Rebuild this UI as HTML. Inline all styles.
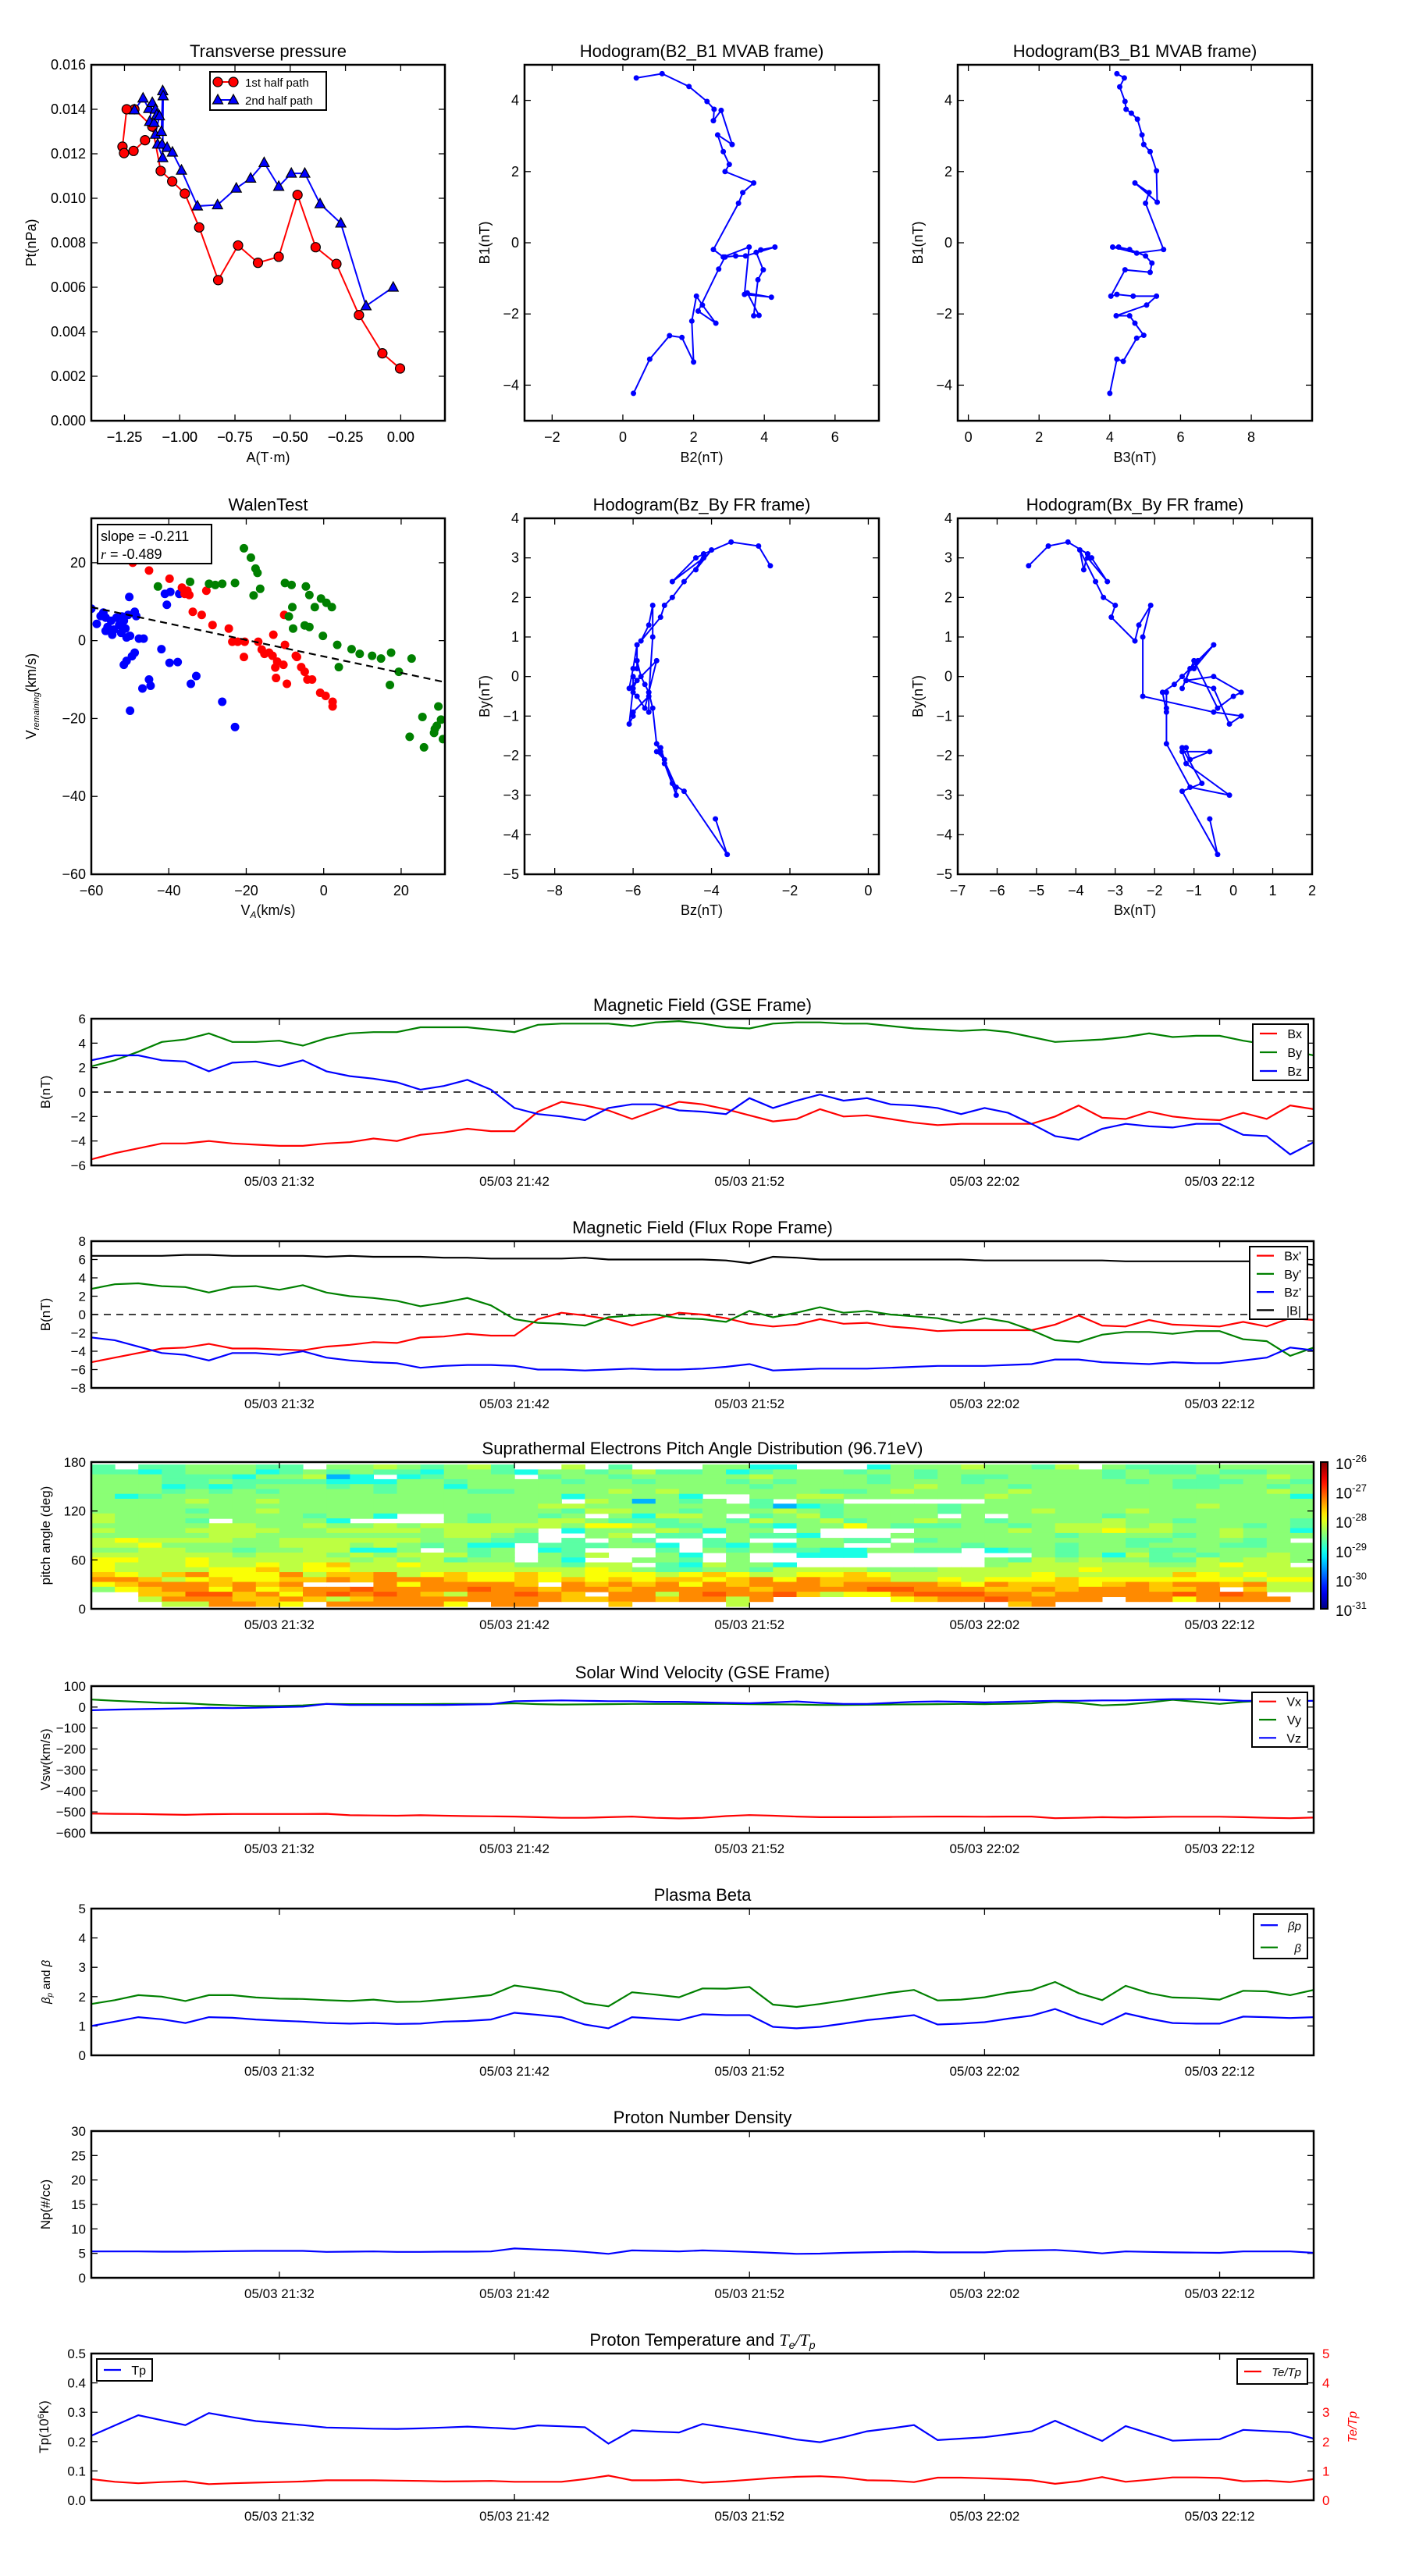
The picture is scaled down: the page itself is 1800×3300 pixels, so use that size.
<!DOCTYPE html>
<html><head><meta charset="utf-8"><title>Flux rope analysis</title>
<style>
html,body{margin:0;padding:0;background:#fff;}
svg{display:block;font-family:"Liberation Sans","DejaVu Sans",sans-serif;}
</style></head>
<body>
<svg id="chart" width="1800" height="3300" viewBox="0 0 1800 3300" xmlns="http://www.w3.org/2000/svg"></svg>
<script>
// ---------------- data ----------------
const minutes = Array.from({length:53},(_,i)=>i); // minute offsets from 21:24
const timeTickMinutes = [8,18,28,38,48];
const timeTickLabels = ["05/03 21:32","05/03 21:42","05/03 21:52","05/03 22:02","05/03 22:12"];

const gseBx = [-5.5,-5.0,-4.6,-4.2,-4.2,-4.0,-4.2,-4.3,-4.4,-4.4,-4.2,-4.1,-3.8,-4.0,-3.5,-3.3,-3.0,-3.2,-3.2,-1.6,-0.8,-1.1,-1.5,-2.2,-1.5,-0.8,-1.0,-1.4,-1.9,-2.4,-2.2,-1.4,-2.0,-1.9,-2.2,-2.5,-2.7,-2.6,-2.6,-2.6,-2.6,-2.0,-1.1,-2.1,-2.2,-1.6,-2.0,-2.2,-2.3,-1.7,-2.2,-1.1,-1.4];
const gseBy = [2.1,2.6,3.3,4.1,4.3,4.8,4.1,4.1,4.2,3.8,4.4,4.8,4.9,4.9,5.3,5.3,5.3,5.1,4.9,5.5,5.6,5.6,5.6,5.4,5.7,5.8,5.6,5.3,5.2,5.6,5.7,5.7,5.6,5.6,5.4,5.2,5.1,5.0,5.1,4.9,4.5,4.1,4.2,4.3,4.5,4.8,4.5,4.6,4.6,4.2,3.9,3.4,3.0];
const gseBz = [2.6,3.0,3.0,2.6,2.5,1.7,2.4,2.5,2.1,2.6,1.7,1.3,1.1,0.8,0.2,0.5,1.0,0.2,-1.3,-1.8,-2.0,-2.3,-1.3,-1.0,-1.0,-1.5,-1.6,-1.8,-0.5,-1.3,-0.7,-0.2,-0.7,-0.5,-1.0,-1.1,-1.3,-1.8,-1.3,-1.7,-2.6,-3.6,-3.9,-3.0,-2.6,-2.8,-2.9,-2.6,-2.6,-3.5,-3.6,-5.1,-4.1];

const frBx = [-5.2,-4.7,-4.2,-3.7,-3.6,-3.2,-3.7,-3.7,-3.8,-3.9,-3.5,-3.3,-3.0,-3.1,-2.5,-2.4,-2.1,-2.3,-2.3,-0.5,0.2,-0.1,-0.5,-1.2,-0.5,0.2,0.0,-0.4,-1.0,-1.3,-1.1,-0.5,-1.0,-0.9,-1.3,-1.5,-1.8,-1.7,-1.7,-1.7,-1.7,-1.1,-0.1,-1.2,-1.3,-0.6,-1.1,-1.2,-1.3,-0.8,-1.3,-0.4,-0.6];
const frBy = [2.8,3.3,3.4,3.1,3.0,2.4,3.0,3.1,2.7,3.2,2.4,2.0,1.8,1.5,0.9,1.3,1.8,1.0,-0.5,-0.9,-1.0,-1.2,-0.3,-0.1,0.0,-0.4,-0.5,-0.8,0.4,-0.3,0.2,0.8,0.2,0.4,0.0,-0.2,-0.4,-0.9,-0.4,-0.8,-1.7,-2.8,-3.0,-2.2,-1.9,-1.9,-2.1,-1.8,-1.8,-2.7,-2.9,-4.5,-3.6];
const frBz = [-2.5,-2.8,-3.5,-4.2,-4.4,-5.0,-4.2,-4.2,-4.4,-4.0,-4.7,-5.0,-5.2,-5.3,-5.8,-5.6,-5.5,-5.5,-5.6,-6.0,-6.0,-6.1,-6.0,-5.9,-6.0,-6.0,-5.9,-5.7,-5.4,-6.1,-6.0,-5.9,-5.9,-5.9,-5.8,-5.7,-5.6,-5.6,-5.6,-5.5,-5.4,-4.9,-4.9,-5.2,-5.3,-5.4,-5.2,-5.3,-5.3,-5.0,-4.7,-3.6,-3.9];
const frBt = [6.4,6.4,6.4,6.4,6.5,6.5,6.4,6.4,6.4,6.4,6.3,6.4,6.3,6.3,6.3,6.2,6.2,6.1,6.1,6.1,6.1,6.2,6.0,6.0,6.0,6.0,6.0,5.9,5.6,6.3,6.2,6.0,6.0,6.0,6.0,6.0,6.0,6.0,5.9,5.9,5.9,5.9,5.9,5.9,5.8,5.8,5.8,5.8,5.8,5.8,5.8,5.7,5.4];

const vswX = [-508,-509,-510,-512,-514,-511,-510,-510,-510,-510,-509,-516,-517,-518,-516,-518,-520,-521,-522,-525,-528,-528,-525,-522,-528,-531,-528,-520,-515,-518,-522,-525,-525,-525,-524,-523,-522,-522,-523,-522,-522,-530,-528,-525,-527,-525,-523,-523,-523,-525,-528,-530,-527];
const vswY = [36,30,25,20,18,12,8,5,5,8,15,14,14,14,14,15,15,15,18,14,12,13,14,15,15,15,15,15,14,13,12,10,10,11,12,13,14,15,14,16,18,25,20,8,12,22,35,25,15,25,30,28,30];
const vswZ = [-15,-12,-10,-8,-6,-4,-5,-3,0,2,15,10,10,10,10,10,12,14,28,30,32,30,28,28,25,25,22,20,18,22,27,20,15,15,20,25,27,25,22,25,28,30,30,32,32,35,38,38,35,30,30,28,30];

const betaP = [1.0,1.15,1.3,1.23,1.1,1.3,1.28,1.22,1.18,1.15,1.1,1.08,1.1,1.07,1.08,1.15,1.17,1.22,1.45,1.38,1.3,1.05,0.92,1.3,1.25,1.2,1.4,1.37,1.37,0.97,0.92,0.97,1.08,1.2,1.28,1.37,1.05,1.08,1.13,1.25,1.35,1.58,1.28,1.05,1.43,1.25,1.1,1.08,1.08,1.32,1.3,1.27,1.3];
const betaTot = [1.75,1.88,2.05,2.0,1.85,2.05,2.05,1.97,1.93,1.92,1.88,1.85,1.9,1.82,1.83,1.9,1.97,2.05,2.38,2.27,2.15,1.78,1.67,2.15,2.07,1.98,2.28,2.27,2.33,1.73,1.65,1.75,1.87,2.0,2.13,2.23,1.87,1.9,1.98,2.13,2.22,2.5,2.12,1.88,2.37,2.12,1.97,1.95,1.9,2.2,2.18,2.05,2.23];
const np = [5.4,5.4,5.4,5.35,5.35,5.4,5.45,5.5,5.5,5.5,5.3,5.35,5.4,5.3,5.3,5.35,5.35,5.4,6.0,5.8,5.6,5.3,4.9,5.6,5.5,5.4,5.6,5.45,5.3,5.1,4.9,4.95,5.1,5.2,5.3,5.35,5.2,5.2,5.2,5.5,5.6,5.7,5.4,5.0,5.4,5.3,5.2,5.15,5.1,5.4,5.4,5.4,5.1];
const tp = [0.22,0.255,0.29,0.273,0.256,0.297,0.283,0.27,0.263,0.256,0.248,0.246,0.244,0.243,0.245,0.248,0.251,0.247,0.243,0.255,0.252,0.249,0.193,0.238,0.234,0.231,0.26,0.248,0.235,0.222,0.207,0.198,0.215,0.235,0.245,0.256,0.205,0.21,0.215,0.225,0.235,0.271,0.236,0.202,0.253,0.228,0.203,0.206,0.208,0.24,0.236,0.232,0.21];
const teTp = [0.72,0.63,0.58,0.62,0.65,0.55,0.58,0.6,0.62,0.64,0.68,0.68,0.68,0.67,0.66,0.64,0.65,0.66,0.63,0.63,0.63,0.72,0.84,0.68,0.68,0.7,0.6,0.64,0.7,0.76,0.8,0.82,0.78,0.68,0.67,0.62,0.77,0.77,0.75,0.72,0.68,0.56,0.65,0.79,0.63,0.7,0.78,0.78,0.76,0.65,0.67,0.62,0.72];

// Pitch-angle distribution: 29 rows (top = 171-177 deg) x 52 one-minute columns.
const padLevels = {b:-29.5,c:-29.0,g:-28.68,l:-28.45,y:-28.2,Y:-27.9,o:-27.6,O:-27.3,r:-27.05};
const padRows = [
"g.gglllgg.llylglyg..y.g...llcc...clllyllgy.lggglllll.",
"ggcglllcglglggcllgcllglygglcglllgllglllllllglgglggllllgg",
"lllgggcllybc.cglll.gllglllllyllllglglggllllglllgllylyg",
"lllgglggggcccllgllllgllglllglglllglllgllllllglgggllgc",
"lllcgcglllglgllcllllllllllllgllllllylllgllllllggllglg",
"lllglglgllllglllggllllylyllllllgglyllllyllllllllllyllllg",
"lcglllllllllllllllllcllllc..llyyllllllyllllllllllllc",
"llllyllyllllllllllll.ylblgl.g.ll......lllllllllllllll",
"lllllllllllllllllllyylllllllgbcgllllgllllllllllyllll",
"llllgllyllllllllllllgyyllglllylgllllglllylllylllllll",
"yllllllllgllc..lgllgl.lcyyl.glygllll.l.llllgllllllll",
"ylllg.llllc....lgllyylgggllgyllygllyllgllllyllgllllgl",
"lllllyyllyllylyyyyyylYYyggllgcllYlgggllglyyylylllglg",
"ylllyyyyllyyyylyyyl.clllylcll.l....llllylyyYyyllyllc",
"lllllyyllllllllyylg..ly.gg.lggc...lllllllgllllglylll",
"yYyyyyllyyyyyylllgg.g.lg..gl..llgg.gllllllllgglllgl.",
"yyYlllllyyylylglcc.gggllc.gclcll..lllglllgllglllggllyl",
"llyyllgllyyccl.lgl.cg...g.lglggccllgg.cglglllgglllllg",
"yyyyyylyyylylyyygl.lgy..lc.l..ccc.......lglcyglgllyl",
"YYyyYyyyyyylylygll.lc..llg.l..........lgylyllggylyyl",
"YyyyYyyYyYoyyYyyyyllgyy.gcyllc........lyyyyyyllyYyy",
"YyyyyYYoyYYyyyyyyyyyyYylggllgyyyylllyyyyyyYyyyyyyyyy",
"oYyoOYYYOyooOyYoYYoYyYYYyYoYyyYYoYyyyyyyYyyyyyoYyYyy",
"OOoyYoYYooOoOOOoYYoYoYoYooYoOYOoooyyYyYYYoYYYYYYYyYY",
"YoOOOoOoO...OYOOOOo.OoOoOYOoOOOoOOOOoYOoooYoOoOOoOyy",
"lYoOOYOYoOOrOOOOrOOoOOoOOOOOoOOOOrrOOOooOoOOOooO.oyy",
"..oorroOYOrOrOoyOOrOo.OOyOrOOroyYYOrrrOOoOOOOOrOrO..",
"..yOOOooOoyoOOOOOOOOooOOoOOyO.....YoOOrOOOO.OOYOOOO.",
"...yyOOoY.OOOOOY.OO...o....y...........oO..........."
];

// Transverse pressure scatter (A in T*m, Pt in nPa)
const pt1A = [-0.003,-0.083,-0.189,-0.291,-0.385,-0.467,-0.552,-0.646,-0.736,-0.826,-0.912,-0.977,-1.034,-1.086,-1.124,-1.205,-1.24,-1.259,-1.252,-1.209,-1.157];
const pt1P = [0.00235,0.00303,0.00475,0.00705,0.0078,0.01015,0.00737,0.0071,0.00788,0.00632,0.00869,0.01021,0.01076,0.01123,0.01322,0.0140,0.0140,0.01232,0.01203,0.01213,0.01261];
const pt2A = [-1.205,-1.166,-1.14,-1.124,-1.136,-1.116,-1.11,-1.104,-1.092,-1.11,-1.083,-1.077,-1.075,-1.077,-1.1,-1.08,-1.057,-1.033,-0.992,-0.92,-0.829,-0.744,-0.679,-0.618,-0.552,-0.495,-0.434,-0.365,-0.271,-0.157,-0.034];
const pt2P = [0.01397,0.0145,0.01403,0.0143,0.01345,0.0134,0.0140,0.01375,0.0137,0.01287,0.0130,0.01483,0.0146,0.01182,0.01243,0.01243,0.01228,0.01207,0.01126,0.00965,0.0097,0.01045,0.0109,0.0116,0.01053,0.01112,0.01112,0.00975,0.00888,0.00516,0.006];

// MVAB hodograms
const mvB2 = [0.30,0.76,1.32,1.67,2.0,1.95,2.08,2.25,2.63,2.13,2.71,2.89,3.19,3.47,4.30,3.9,3.77,3.97,3.82,3.70,3.85,3.52,4.2,3.44,3.57,2.84,2.56,3.27,3.39,3.70,2.89,3.01,2.84,2.68,3.09,2.78,2.56,2.58,2.38,1.87,1.11,0.38];
const mvB1 = [-4.23,-3.27,-2.61,-2.66,-3.35,-2.2,-1.5,-1.75,-2.26,-1.92,-0.74,-0.4,-0.37,-0.37,-0.12,-0.2,-0.27,-0.76,-1.04,-2.05,-2.04,-1.41,-1.53,-1.45,-0.12,-0.4,-0.19,1.11,1.41,1.68,2.0,2.2,2.56,3.03,2.76,3.72,3.43,3.75,3.97,4.39,4.75,4.63];
const mvB3 = [4.0,4.2,4.38,4.76,4.96,4.71,4.56,4.18,5.04,5.32,4.66,4.2,4.03,4.43,5.14,5.19,5.01,4.56,4.25,4.08,4.76,5.52,5.01,5.11,4.71,5.34,5.32,5.14,4.96,4.91,4.78,4.61,4.46,4.43,4.28,4.41,4.2];
const mvB1b = [-4.23,-3.27,-3.33,-2.68,-2.6,-2.26,-2.05,-2.05,-1.75,-1.5,-1.5,-1.45,-1.5,-0.76,-0.83,-0.57,-0.37,-0.19,-0.12,-0.12,-0.29,-0.19,1.11,1.41,1.68,1.14,2.02,2.56,2.76,3.03,3.47,3.64,3.75,3.97,4.38,4.63,4.75];

// Walen test (V_A, V_remaining km/s)
const walenSlope = -0.211, walenIntercept = -4.06, walenR = -0.489;
const walenBlueX = [-60.0,-58.6,-57.6,-56.9,-56.3,-55.8,-54.9,-54.2,-53.5,-52.8,-52.3,-51.6,-51.2,-50.5,-50.0,-56.3,-54.6,-52.1,-50.9,-48.8,-48.4,-49.5,-48.8,-47.7,-46.5,-50.9,-51.6,-45.1,-44.7,-46.8,-50.0,-41.9,-39.8,-37.7,-34.3,-32.9,-26.2,-22.9,-41.0,-39.6,-37.3,-40.5,-50.2];
const walenBlueY = [8.2,4.3,6.3,7.2,5.9,3.5,5.1,2.8,5.9,4.0,2.0,5.1,3.1,6.6,1.2,2.5,1.5,6.2,0.8,7.4,6.3,-4.0,-3.1,0.5,0.5,-5.2,-6.2,-10.0,-11.6,-12.3,-18.0,-2.2,-5.7,-5.5,-11.1,-9.1,-15.7,-22.2,12.0,12.5,12.0,9.2,11.2];
const walenRedX = [-49.3,-45.1,-39.8,-36.6,-35.2,-34.7,-30.3,-33.8,-31.5,-28.7,-24.5,-23.6,-22.2,-20.4,-20.6,-16.9,-16.0,-14.1,-13.0,-13.2,-12.0,-12.5,-10.4,-12.3,-9.5,-10.0,-7.2,-5.8,-4.9,-4.2,-3.0,-0.9,0.5,2.3,2.3,-6.9,-10.2,-15.3,-35.9];
const walenRedY = [20.0,18.0,15.9,13.6,12.8,11.7,12.8,7.4,6.6,4.0,3.1,-0.3,-0.3,-0.3,-4.2,-0.3,-2.3,-3.1,1.5,-3.9,-5.4,-6.9,-6.2,-9.6,-11.1,-1.1,-3.9,-6.8,-8.0,-10.0,-10.0,-13.4,-14.2,-15.7,-16.9,-4.2,6.6,-3.4,12.0];
const walenGreenX = [-20.6,-18.8,-17.6,-17.1,-18.1,-16.4,-22.9,-26.2,-28.0,-29.6,-34.5,-42.8,-10.0,-8.3,-4.6,-3.7,-2.3,-0.7,0.7,2.1,-8.1,-9.0,-7.9,-4.9,-3.7,-0.2,3.5,3.9,7.2,9.3,12.5,14.8,17.4,19.4,17.1,22.7,25.5,25.9,29.2,29.6,28.7,28.5,30.8,22.2,30.3];
const walenGreenY = [23.7,21.3,18.5,17.4,11.6,13.3,14.8,14.6,14.3,14.6,15.1,13.9,14.8,14.3,13.9,11.7,8.6,10.8,9.7,8.6,8.6,6.2,3.1,3.9,3.5,1.2,-1.1,-6.8,-2.2,-3.4,-3.9,-4.6,-3.1,-8.0,-11.4,-4.6,-19.6,-27.4,-21.9,-16.9,-22.7,-23.7,-25.3,-24.7,-20.3];

// ---------------- drawing ----------------
const svg = document.getElementById('chart');
const NS = 'http://www.w3.org/2000/svg';
function add(parent, tag, attrs, name, inter){
  const e = document.createElementNS(NS, tag);
  for (const k in attrs) e.setAttribute(k, attrs[k]);
  
  
  parent.appendChild(e);
  return e;
}
function txt(parent, x, y, s, size, anchor, name, extra){
  const a = Object.assign({x:x, y:y, 'font-size':size, 'text-anchor':anchor||'middle', fill:'#000'}, extra||{});
  const t = add(parent, 'text', a, name);
  t.textContent = s;
  return t;
}
function lin(d0,d1,r0,r1){ return v => r0 + (v-d0)*(r1-r0)/(d1-d0); }
function pathD(xs, ys, sx, sy){ return xs.map((v,i)=>(i?'L':'M')+sx(v).toFixed(1)+','+sy(ys[i]).toFixed(1)).join(''); }

function frame(g, L, T, W, H, xt, yt, sx, sy, xlab, ylab, xfmt, yfmt, name, opts){
  opts = opts||{};
  const tk = 8;
  const ticks = add(g,'g',{stroke:'#000','stroke-width':1.3},name+'-ticks');
  xt.forEach((v,i)=>{
    const x = sx(v);
    add(ticks,'line',{x1:x,y1:T+H,x2:x,y2:T+H-tk},name+'-x-tick');
    add(ticks,'line',{x1:x,y1:T,x2:x,y2:T+tk},name+'-x-tick-top');
    if (xlab) txt(g, x, T+H+ (opts.xoff||27), xlab[i]!==undefined?xlab[i]:xfmt(v), opts.xfs||18, 'middle', name+'-x-tick-label');
  });
  yt.forEach((v,i)=>{
    const y = sy(v);
    add(ticks,'line',{x1:L,y1:y,x2:L+tk,y2:y},name+'-y-tick');
    if (!opts.noRightTicks) add(ticks,'line',{x1:L+W,y1:y,x2:L+W-tk,y2:y},name+'-y-tick-right');
    txt(g, L-7, y+6, yfmt(v), opts.yfs||18, 'end', name+'-y-tick-label');
  });
}
function border(g,L,T,W,H,name){
  add(g,'rect',{x:L,y:T,width:W,height:H,fill:'none',stroke:'#000','stroke-width':2.5},name+'-frame');
}
function rotLabel(g,x,y,s,size,name,fill){
  const t = add(g,'text',{x:x,y:y,'font-size':size,'text-anchor':'middle',fill:fill||'#000',transform:`rotate(-90 ${x} ${y})`},name);
  t.textContent = s;
  return t;
}
function clip(id,L,T,W,H){
  let defs = svg.querySelector('defs');
  if(!defs) defs = add(svg,'defs',{},'definitions');
  const c = add(defs,'clipPath',{id:id},id);
  add(c,'rect',{x:L,y:T,width:W,height:H},id+'-rect');
  return `url(#${id})`;
}
const fmt2 = v => v.toFixed(2), fmt3 = v => v.toFixed(3), fmt0 = v => (v<0?'\u2212':'')+Math.abs(Math.round(v));
const fmtM = v => (v<0?'\u2212':'')+Math.abs(v).toFixed(2);
function range(a,b,s){ const r=[]; for(let v=a; v<=b+1e-9; v+=s) r.push(+v.toFixed(6)); return r; }

// ====== Panel 1: Transverse pressure ======
(function(){
  const g = add(svg,'g',{},'transverse-pressure-panel');
  const L=117,T=83,W=453,H=456;
  const sx = lin(-1.4,0.2,L,L+W), sy = lin(0,0.016,T+H,T);
  txt(g, L+W/2, 73, 'Transverse pressure', 22, 'middle', 'transverse-pressure-title');
  frame(g,L,T,W,H,range(-1.25,0,0.25),range(0,0.016,0.002),sx,sy,[],null,fmtM,fmt3,'pt',{});
  range(-1.25,0,0.25).forEach(v=>txt(g,sx(v),T+H+27,fmtM(v),18,'middle','pt-x-tick-label'));
  txt(g, L+W/2, 592, 'A(T\u00b7m)', 18, 'middle', 'pt-x-axis-title');
  rotLabel(g, 46, T+H/2, 'Pt(nPa)', 18, 'pt-y-axis-title');
  const cp = clip('clip-pt',L,T,W,H);
  const pg = add(g,'g',{'clip-path':cp},'pt-plot-area');
  add(pg,'path',{d:pathD(pt1A,pt1P,sx,sy),fill:'none',stroke:'#f00','stroke-width':2},'first-half-path-line');
  add(pg,'path',{d:pathD(pt2A,pt2P,sx,sy),fill:'none',stroke:'#00f','stroke-width':2},'second-half-path-line');
  pt1A.forEach((a,i)=>add(pg,'circle',{cx:sx(a),cy:sy(pt1P[i]),r:6,fill:'#f00',stroke:'#000','stroke-width':1.2},'first-half-marker'));
  pt2A.forEach((a,i)=>{const x=sx(a),y=sy(pt2P[i]);
    add(pg,'polygon',{points:`${x},${y-7} ${x-6.5},${y+5} ${x+6.5},${y+5}`,fill:'#00f',stroke:'#000','stroke-width':1.2},'second-half-marker');});
  border(g,L,T,W,H,'pt');
  const lg = add(g,'g',{},'pt-legend');
  add(lg,'rect',{x:269,y:92,width:149,height:49,fill:'#fff',stroke:'#000','stroke-width':2},'pt-legend-box');
  add(lg,'line',{x1:279,y1:105,x2:299,y2:105,stroke:'#f00','stroke-width':2},'legend-first-half-line');
  add(lg,'circle',{cx:279,cy:105,r:6,fill:'#f00',stroke:'#000','stroke-width':1.2},'legend-first-half-marker');
  add(lg,'circle',{cx:299,cy:105,r:6,fill:'#f00',stroke:'#000','stroke-width':1.2},'legend-first-half-marker');
  txt(lg,314,111,'1st half path',15,'start','legend-first-half-label');
  add(lg,'line',{x1:279,y1:128,x2:299,y2:128,stroke:'#00f','stroke-width':2},'legend-second-half-line');
  add(lg,'polygon',{points:'279,121 272.5,133 285.5,133',fill:'#00f',stroke:'#000','stroke-width':1.2},'legend-second-half-marker');
  add(lg,'polygon',{points:'299,121 292.5,133 305.5,133',fill:'#00f',stroke:'#000','stroke-width':1.2},'legend-second-half-marker');
  txt(lg,314,134,'2nd half path',15,'start','legend-second-half-label');
})();

// ====== Hodogram helper ======
function hodogram(name,title,L,T,W,H,xr,yr,xt,yt,xs,ys,xlabel,ylabel,ylabX,xlabY){
  const g = add(svg,'g',{},name+'-panel');
  const sx = lin(xr[0],xr[1],L,L+W), sy = lin(yr[0],yr[1],T+H,T);
  txt(g, L+W/2, T-10, title, 22, 'middle', name+'-title');
  frame(g,L,T,W,H,xt,yt,sx,sy,null,null,fmt0,fmt0,name,{});
  xt.forEach(v=>txt(g,sx(v),T+H+27,fmt0(v),18,'middle',name+'-x-tick-label'));
  txt(g, L+W/2, xlabY, xlabel, 18, 'middle', name+'-x-axis-title');
  rotLabel(g, ylabX, T+H/2, ylabel, 18, name+'-y-axis-title');
  const pg = add(g,'g',{'clip-path':clip('clip-'+name,L,T,W,H)},name+'-plot-area');
  add(pg,'path',{d:pathD(xs,ys,sx,sy),fill:'none',stroke:'#00f','stroke-width':2},name+'-path');
  xs.forEach((v,i)=>add(pg,'circle',{cx:sx(v),cy:sy(ys[i]),r:3.5,fill:'#00f'},name+'-point'));
  border(g,L,T,W,H,name);
  return g;
}
hodogram('hodogram-b2-b1','Hodogram(B2_B1 MVAB frame)',672,83,454,456,[-2.78,7.24],[-5,5],range(-2,6,2),range(-4,4,2),mvB2,mvB1,'B2(nT)','B1(nT)',627,592);
hodogram('hodogram-b3-b1','Hodogram(B3_B1 MVAB frame)',1227,83,454,456,[-0.3,9.72],[-5,5],range(0,8,2),range(-4,4,2),mvB3,mvB1b,'B3(nT)','B1(nT)',1182,592);
hodogram('hodogram-bz-by','Hodogram(Bz_By FR frame)',672,664,454,456,[-8.77,0.27],[-5,4],range(-8,0,2),range(-5,4,1),frBz,frBy,'Bz(nT)','By(nT)',627,1172);
hodogram('hodogram-bx-by','Hodogram(Bx_By FR frame)',1227,664,454,456,[-7,2],[-5,4],range(-7,2,1),range(-5,4,1),frBx,frBy,'Bx(nT)','By(nT)',1182,1172);

// ====== Walen test ======
(function(){
  const g = add(svg,'g',{},'walen-test-panel');
  const L=117,T=664,W=453,H=456;
  const sx = lin(-60,31.3,L,L+W), sy = lin(-60,31.4,T+H,T);
  txt(g, L+W/2, T-10, 'WalenTest', 22, 'middle', 'walen-title');
  frame(g,L,T,W,H,range(-60,20,20),range(-60,20,20),sx,sy,null,null,fmt0,fmt0,'walen',{});
  range(-60,20,20).forEach(v=>txt(g,sx(v),T+H+27,fmt0(v),18,'middle','walen-x-tick-label'));
  const xl = txt(g, L+W/2, 1172, 'V', 18, 'middle', 'walen-x-axis-title');
  const s1 = document.createElementNS(NS,'tspan'); s1.setAttribute('font-size','12'); s1.setAttribute('dy','4'); s1.setAttribute('font-style','italic'); s1.textContent='A'; xl.appendChild(s1);
  const s2 = document.createElementNS(NS,'tspan'); s2.setAttribute('dy','-4'); s2.textContent='(km/s)'; xl.appendChild(s2);
  const yl = rotLabel(g, 46, T+H/2, 'V', 18, 'walen-y-axis-title');
  const s3 = document.createElementNS(NS,'tspan'); s3.setAttribute('font-size','11'); s3.setAttribute('dy','4'); s3.setAttribute('font-style','italic'); s3.textContent='remaining'; yl.appendChild(s3);
  const s4 = document.createElementNS(NS,'tspan'); s4.setAttribute('dy','-4'); s4.textContent='(km/s)'; yl.appendChild(s4);
  const pg = add(g,'g',{'clip-path':clip('clip-walen',L,T,W,H)},'walen-plot-area');
  walenBlueX.forEach((v,i)=>add(pg,'circle',{cx:sx(v),cy:sy(walenBlueY[i]),r:5.5,fill:'#00f'},'walen-blue-point'));
  walenRedX.forEach((v,i)=>add(pg,'circle',{cx:sx(v),cy:sy(walenRedY[i]),r:5.5,fill:'#f00'},'walen-red-point'));
  walenGreenX.forEach((v,i)=>add(pg,'circle',{cx:sx(v),cy:sy(walenGreenY[i]),r:5.5,fill:'#008000'},'walen-green-point'));
  add(pg,'line',{x1:sx(-60),y1:sy(walenSlope*-60+walenIntercept),x2:sx(31.3),y2:sy(walenSlope*31.3+walenIntercept),stroke:'#000','stroke-width':2.2,'stroke-dasharray':'9,6'},'walen-fit-line');
  border(g,L,T,W,H,'walen');
  add(g,'rect',{x:125,y:672,width:146,height:50,fill:'#fff',stroke:'#000','stroke-width':2},'walen-stats-box');
  txt(g,129,693,'slope = '+walenSlope.toFixed(3),18,'start','walen-slope-text');
  const rt = txt(g,129,716,'',18,'start','walen-r-text');
  const ri = document.createElementNS(NS,'tspan'); ri.setAttribute('font-style','italic'); ri.setAttribute('font-family','Liberation Serif, serif'); ri.textContent='r'; rt.appendChild(ri);
  const rv = document.createElementNS(NS,'tspan'); rv.textContent=' = '+walenR.toFixed(3); rt.appendChild(rv);
})();

// ====== Time series panels ======
const TL=117, TW=1566, TH=188;
const sxT = lin(0,52,TL,TL+TW);
function tsPanel(name,title,T,yr,yt,ylabel,opts){
  opts=opts||{};
  const g = add(svg,'g',{},name+'-panel');
  const sy = lin(yr[0],yr[1],T+TH,T);
  frame(g,TL,T,TW,TH,timeTickMinutes,yt,sxT,sy,timeTickLabels,null,null,opts.yfmt||fmt0,name,{xfs:17,xoff:26,yfs:17,noRightTicks:opts.noRightTicks});
  if (typeof title === 'string') txt(g, TL+TW/2, T-10, title, 22, 'middle', name+'-title');
  if (typeof ylabel === 'string') rotLabel(g, opts.ylabX||64, T+TH/2, ylabel, 17, name+'-y-axis-title');
  return {g:g, sy:sy};
}
function series(p,name,vals,color,cid){
  add(p.g,'path',{d:pathD(minutes.slice(0,vals.length),vals,sxT,p.sy),fill:'none',stroke:color,'stroke-width':2.2,'clip-path':cid},name);
}
function legend(g,x,y,w,h,entries,name,fs){
  const lg = add(g,'g',{},name);
  add(lg,'rect',{x:x,y:y,width:w,height:h,fill:'#fff',stroke:'#000','stroke-width':2},name+'-box');
  const step = h/entries.length;
  entries.forEach((e,i)=>{
    const cy = y + step*(i+0.5);
    add(lg,'line',{x1:x+9,y1:cy,x2:x+31,y2:cy,stroke:e[1],'stroke-width':2.2},name+'-swatch');
    const t = txt(lg,x+w-8,cy+6,e[0],fs||16,'end',name+'-label');
    if (e[2]) t.setAttribute('font-style','italic');
  });
}

// GSE magnetic field
(function(){
  const T=1305; const p = tsPanel('gse-field','Magnetic Field (GSE Frame)',T,[-6,6],range(-6,6,2),'B(nT)');
  const cid = clip('clip-gse',TL,T,TW,TH);
  add(p.g,'line',{x1:TL,y1:p.sy(0),x2:TL+TW,y2:p.sy(0),stroke:'#000','stroke-width':1.5,'stroke-dasharray':'9,7'},'gse-zero-line');
  series(p,'gse-bx-line',gseBx,'#f00',cid);
  series(p,'gse-by-line',gseBy,'#008000',cid);
  series(p,'gse-bz-line',gseBz,'#00f',cid);
  border(p.g,TL,T,TW,TH,'gse-field');
  legend(p.g,1605,1312,71,72,[['Bx','#f00'],['By','#008000'],['Bz','#00f']],'gse-legend');
})();

// Flux rope frame
(function(){
  const T=1590; const p = tsPanel('fr-field','Magnetic Field (Flux Rope Frame)',T,[-8,8],range(-8,8,2),'B(nT)');
  const cid = clip('clip-fr',TL,T,TW,TH);
  add(p.g,'line',{x1:TL,y1:p.sy(0),x2:TL+TW,y2:p.sy(0),stroke:'#000','stroke-width':1.5,'stroke-dasharray':'9,7'},'fr-zero-line');
  series(p,'fr-bx-line',frBx,'#f00',cid);
  series(p,'fr-by-line',frBy,'#008000',cid);
  series(p,'fr-bz-line',frBz,'#00f',cid);
  series(p,'fr-bt-line',frBt,'#000',cid);
  border(p.g,TL,T,TW,TH,'fr-field');
  legend(p.g,1601,1597,74,93,[["Bx'",'#f00'],["By'",'#008000'],["Bz'",'#00f'],['|B|','#000']],'fr-legend');
})();

// Pitch angle distribution
function jet(v){
  v=Math.max(0,Math.min(1,v));
  const c = x=>Math.round(255*Math.max(0,Math.min(1,x)));
  return `rgb(${c(1.5-Math.abs(4*v-3))},${c(1.5-Math.abs(4*v-2))},${c(1.5-Math.abs(4*v-1))})`;
}
(function(){
  const T=1873; const H=188;
  const g = add(svg,'g',{},'pitch-angle-panel');
  const sy = lin(0,180,T+H,T);
  txt(g, TL+TW/2, T-10, 'Suprathermal Electrons Pitch Angle Distribution (96.71eV)', 22, 'middle', 'pad-title');
  const cells = add(g,'g',{'clip-path':clip('clip-pad',TL,T,TW,H)},'pad-heatmap');
  const colW = sxT(1)-sxT(0);
  padRows.forEach((row,r)=>{
    const hi = 177-6*r, lo = hi-6;
    for(let c=0;c<52;c++){
      const ch = row[c]||'.';
      if(!(ch in padLevels)) continue;
      const v = (padLevels[ch]+31)/5;
      add(cells,'rect',{x:sxT(c).toFixed(1),y:sy(hi).toFixed(1),width:(colW+0.6).toFixed(1),height:(sy(lo)-sy(hi)+0.6).toFixed(1),fill:jet(v)},'pad-cell');
    }
  });
  frame(g,TL,T,TW,H,timeTickMinutes,[0,60,120,180],sxT,sy,timeTickLabels,null,null,fmt0,'pad',{xfs:17,xoff:26,yfs:17});
  rotLabel(g, 64, T+H/2, 'pitch angle (deg)', 17, 'pad-y-axis-title');
  border(g,TL,T,TW,H,'pad');
  let defs = svg.querySelector('defs');
  const grad = add(defs,'linearGradient',{id:'jetgrad',x1:0,y1:1,x2:0,y2:0},'colorbar-gradient');
  for(let k=0;k<=20;k++) add(grad,'stop',{offset:k/20,'stop-color':jet(k/20)},'colorbar-stop');
  add(g,'rect',{x:1692,y:T,width:9,height:H,fill:'url(#jetgrad)',stroke:'#000','stroke-width':2},'colorbar');
  [-26,-27,-28,-29,-30,-31].forEach((e,i)=>{
    const y = T + i*H/5;
    const t = txt(g,1711,y+9,'10',19,'start','colorbar-tick-label');
    const s = document.createElementNS(NS,'tspan'); s.setAttribute('font-size','13'); s.setAttribute('dy','-9'); s.textContent=String(e); t.appendChild(s);
  });
})();

// Solar wind velocity
(function(){
  const T=2160; const p = tsPanel('velocity','Solar Wind Velocity (GSE Frame)',T,[-600,100],range(-600,100,100),'Vsw(km/s)');
  const cid = clip('clip-vsw',TL,T,TW,TH);
  series(p,'vx-line',vswX,'#f00',cid);
  series(p,'vy-line',vswY,'#008000',cid);
  series(p,'vz-line',vswZ,'#00f',cid);
  border(p.g,TL,T,TW,TH,'velocity');
  legend(p.g,1604,2168,71,70,[['Vx','#f00'],['Vy','#008000'],['Vz','#00f']],'velocity-legend');
})();

// Plasma beta
(function(){
  const T=2445; const p = tsPanel('beta','Plasma Beta',T,[0,5],range(0,5,1),null);
  const yl = rotLabel(p.g, 64, T+TH/2, '', 15, 'beta-y-axis-title');
  yl.setAttribute('font-style','italic');
  const a = document.createElementNS(NS,'tspan'); a.textContent='\u03b2'; yl.appendChild(a);
  const b = document.createElementNS(NS,'tspan'); b.setAttribute('font-size','10'); b.setAttribute('dy','3'); b.textContent='p'; yl.appendChild(b);
  const c2 = document.createElementNS(NS,'tspan'); c2.setAttribute('dy','-3'); c2.setAttribute('font-style','normal'); c2.textContent=' and '; yl.appendChild(c2);
  const d = document.createElementNS(NS,'tspan'); d.textContent='\u03b2'; yl.appendChild(d);
  const cid = clip('clip-beta',TL,T,TW,TH);
  series(p,'beta-p-line',betaP,'#00f',cid);
  series(p,'beta-line',betaTot,'#008000',cid);
  border(p.g,TL,T,TW,TH,'beta');
  legend(p.g,1606,2452,69,57,[['\u03b2p','#00f',true],['\u03b2','#008000',true]],'beta-legend',15);
})();

// Proton density
(function(){
  const T=2730; const p = tsPanel('density','Proton Number Density',T,[0,30],range(0,30,5),'Np(#/cc)');
  series(p,'np-line',np,'#00f',clip('clip-np',TL,T,TW,TH));
  border(p.g,TL,T,TW,TH,'density');
})();

// Proton temperature
(function(){
  const T=3015; const p = tsPanel('temperature',null,T,[0,0.5],range(0,0.5,0.1),null,{yfmt:v=>v.toFixed(1),noRightTicks:true});
  const tt = txt(p.g, TL+TW/2, T-10, 'Proton Temperature and ', 22, 'middle', 'temperature-title');
  const t1 = document.createElementNS(NS,'tspan'); t1.setAttribute('font-style','italic'); t1.setAttribute('font-family','Liberation Serif, serif'); t1.textContent='T'; tt.appendChild(t1);
  const t2 = document.createElementNS(NS,'tspan'); t2.setAttribute('font-size','14'); t2.setAttribute('dy','4'); t2.setAttribute('font-style','italic'); t2.textContent='e'; tt.appendChild(t2);
  const t3 = document.createElementNS(NS,'tspan'); t3.setAttribute('dy','-4'); t3.setAttribute('font-style','italic'); t3.setAttribute('font-family','Liberation Serif, serif'); t3.textContent='/T'; tt.appendChild(t3);
  const t4 = document.createElementNS(NS,'tspan'); t4.setAttribute('font-size','14'); t4.setAttribute('dy','4'); t4.setAttribute('font-style','italic'); t4.textContent='p'; tt.appendChild(t4);
  const yl = rotLabel(p.g, 62, T+TH/2, 'Tp(10', 17, 'temperature-y-axis-title');
  const y1 = document.createElementNS(NS,'tspan'); y1.setAttribute('font-size','11'); y1.setAttribute('dy','-6'); y1.textContent='6'; yl.appendChild(y1);
  const y2 = document.createElementNS(NS,'tspan'); y2.setAttribute('dy','6'); y2.textContent='K)'; yl.appendChild(y2);
  const syR = lin(0,5,T+TH,T);
  range(0,5,1).forEach(v=>{
    add(p.g,'line',{x1:TL+TW,y1:syR(v),x2:TL+TW-8,y2:syR(v),stroke:'#000','stroke-width':1.3},'ratio-y-tick');
    txt(p.g,1694,syR(v)+6,String(v),17,'start','ratio-y-tick-label',{fill:'#f00'});
  });
  const rl = rotLabel(p.g, 1738, T+TH/2, 'Te/Tp', 16, 'ratio-y-axis-title', '#f00');
  rl.setAttribute('font-style','italic');
  const cid = clip('clip-temp',TL,T,TW,TH);
  series(p,'tp-line',tp,'#00f',cid);
  add(p.g,'path',{d:pathD(minutes,teTp,sxT,syR),fill:'none',stroke:'#f00','stroke-width':2.2,'clip-path':cid},'te-tp-ratio-line');
  border(p.g,TL,T,TW,TH,'temperature');
  legend(p.g,124,3022,71,28,[['Tp','#00f']],'tp-legend');
  legend(p.g,1585,3022,90,32,[['Te/Tp','#f00',true]],'ratio-legend',15);
})();
</script>
</body></html>
